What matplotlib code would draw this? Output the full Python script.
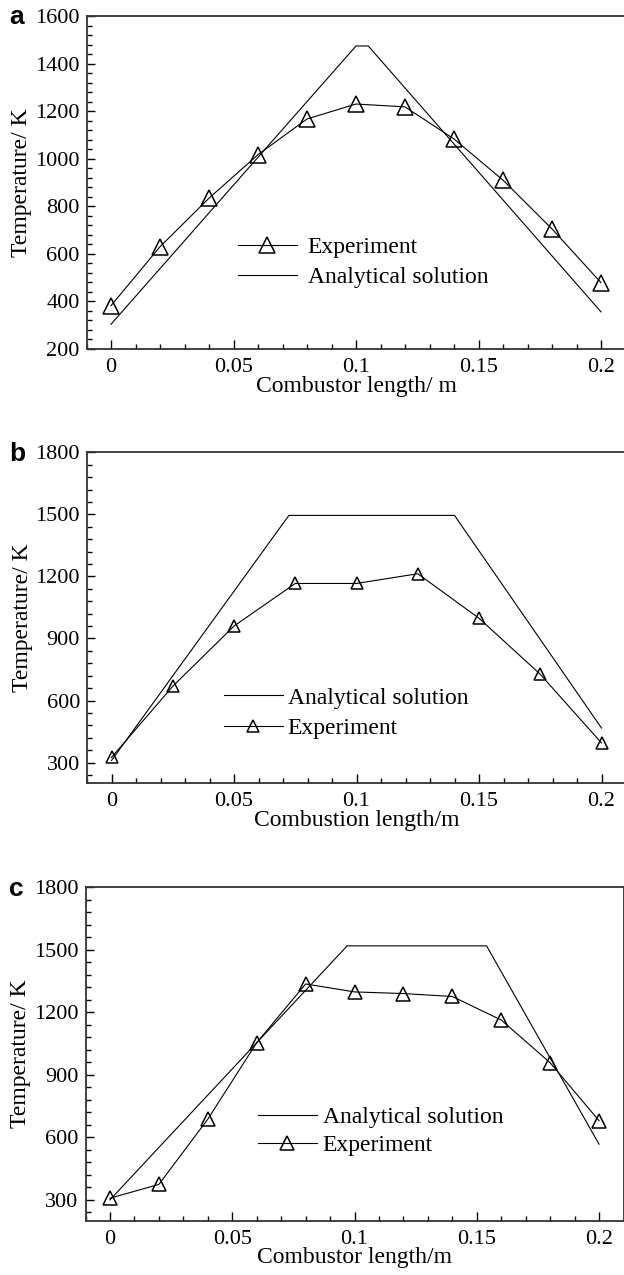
import numpy as np
import matplotlib
matplotlib.use('Agg')
import matplotlib.pyplot as plt
from matplotlib.ticker import MultipleLocator, FormatStrFormatter

W, H = 624, 1275
DPI = 100

# panel a
a_exp_x = [0, 0.02, 0.04, 0.06, 0.08, 0.10, 0.12, 0.14, 0.16, 0.18, 0.20]
a_exp_y = [382, 630, 834, 1017, 1167, 1230, 1218, 1083, 910, 705, 479]
a_ana_x = [0, 0.100, 0.105, 0.20]
a_ana_y = [304, 1474, 1474, 356]

# panel b
b_exp_x = [0, 0.025, 0.05, 0.075, 0.10, 0.125, 0.15, 0.175, 0.20]
b_exp_y = [325, 669, 960, 1166, 1166, 1213, 998, 727, 395]
b_ana_x = [0, 0.0724, 0.140, 0.20]
b_ana_y = [310, 1495, 1495, 467]

# panel c
c_exp_x = [0, 0.02, 0.04, 0.06, 0.08, 0.10, 0.12, 0.14, 0.16, 0.18, 0.20]
c_exp_y = [308, 374, 687, 1054, 1336, 1298, 1290, 1276, 1163, 958, 680]
c_ana_x = [0, 0.097, 0.154, 0.20]
c_ana_y = [300, 1519, 1519, 567]

SERIF = 'Liberation Serif'
plt.rcParams['font.family'] = SERIF

fig = plt.figure(figsize=(W / DPI, H / DPI), dpi=DPI)


def px_axes(left, right, top, bottom):
    return fig.add_axes([left / W, 1 - bottom / H, (right - left) / W, (bottom - top) / H])


def style_axes(ax, ylim, ymajor, yminor, xlabel):
    ax.set_xlim(-0.01, 0.21)
    ax.set_ylim(*ylim)
    ax.xaxis.set_major_locator(MultipleLocator(0.05))
    ax.xaxis.set_minor_locator(MultipleLocator(0.01))
    ax.xaxis.set_major_formatter(FormatStrFormatter('%g'))
    ax.yaxis.set_major_locator(MultipleLocator(ymajor))
    ax.yaxis.set_minor_locator(MultipleLocator(yminor))
    ax.tick_params(which='both', direction='in', top=False, right=False,
                   labelsize=16, colors='black', width=1.0)
    ax.tick_params(which='major', length=6)
    ax.tick_params(which='minor', length=3.5)
    ax.tick_params(axis='x', which='major', pad=6.5, length=6.5)
    ax.tick_params(axis='y', which='major', pad=5)
    for sp in ax.spines.values():
        sp.set_color('#333333')
        sp.set_linewidth(1.3)
    ax.set_xlabel(xlabel, fontsize=17, labelpad=-1)
    ax.set_ylabel('Temperature/ K', fontsize=17, labelpad=2)


def draw(ax, ex, ey, ax_x, ax_y, ms, order):
    l1, = ax.plot(ex, ey, color='black', lw=0.8, marker='^', ms=ms,
                  mfc='none', mec='black', mew=1.1, label='Experiment')
    l2, = ax.plot(ax_x, ax_y, color='black', lw=0.8, label='Analytical solution')
    return (l1, l2) if order == 'exp' else (l2, l1)


def add_legend(ax, handles, xfrac, yfrac, hl, tp, ls):
    ax.legend(handles=handles, loc='center left', bbox_to_anchor=(xfrac, yfrac),
              frameon=False, fontsize=17, handlelength=hl, handletextpad=tp,
              labelspacing=ls, borderpad=0, borderaxespad=0)


# a
ax_a = px_axes(86.5, 625.5, 16, 349)
style_axes(ax_a, (200, 1600), 200, 40, 'Combustor length/ m')
h = draw(ax_a, a_exp_x, a_exp_y, a_ana_x, a_ana_y, 11, 'exp')
add_legend(ax_a, h, 0.281, 0.26, 2.5, 0.45, 0.35)

# b
ax_b = px_axes(87, 626, 452.3, 783.3)
style_axes(ax_b, (200, 1800), 300, 60, 'Combustion length/m')
h = draw(ax_b, b_exp_x, b_exp_y, b_ana_x, b_ana_y, 9, 'ana')
add_legend(ax_b, h, 0.254, 0.212, 2.5, 0.2, 0.38)

# c
ax_c = px_axes(85.5, 623.5, 887.3, 1220.7)
style_axes(ax_c, (200, 1800), 300, 60, 'Combustor length/m')
h = draw(ax_c, c_exp_x, c_exp_y, c_ana_x, c_ana_y, 10.5, 'ana')
add_legend(ax_c, h, 0.32, 0.268, 2.5, 0.25, 0.27)

# panel letters
for letter, top in [('a', 16), ('b', 452.3), ('c', 887.3)]:
    fig.text(9 / W, 1 - (top + 8.5) / H, letter, fontsize=19, fontweight='bold',
             family='Liberation Sans', ha='left', va='baseline')

fig.savefig('out.png', dpi=DPI)
